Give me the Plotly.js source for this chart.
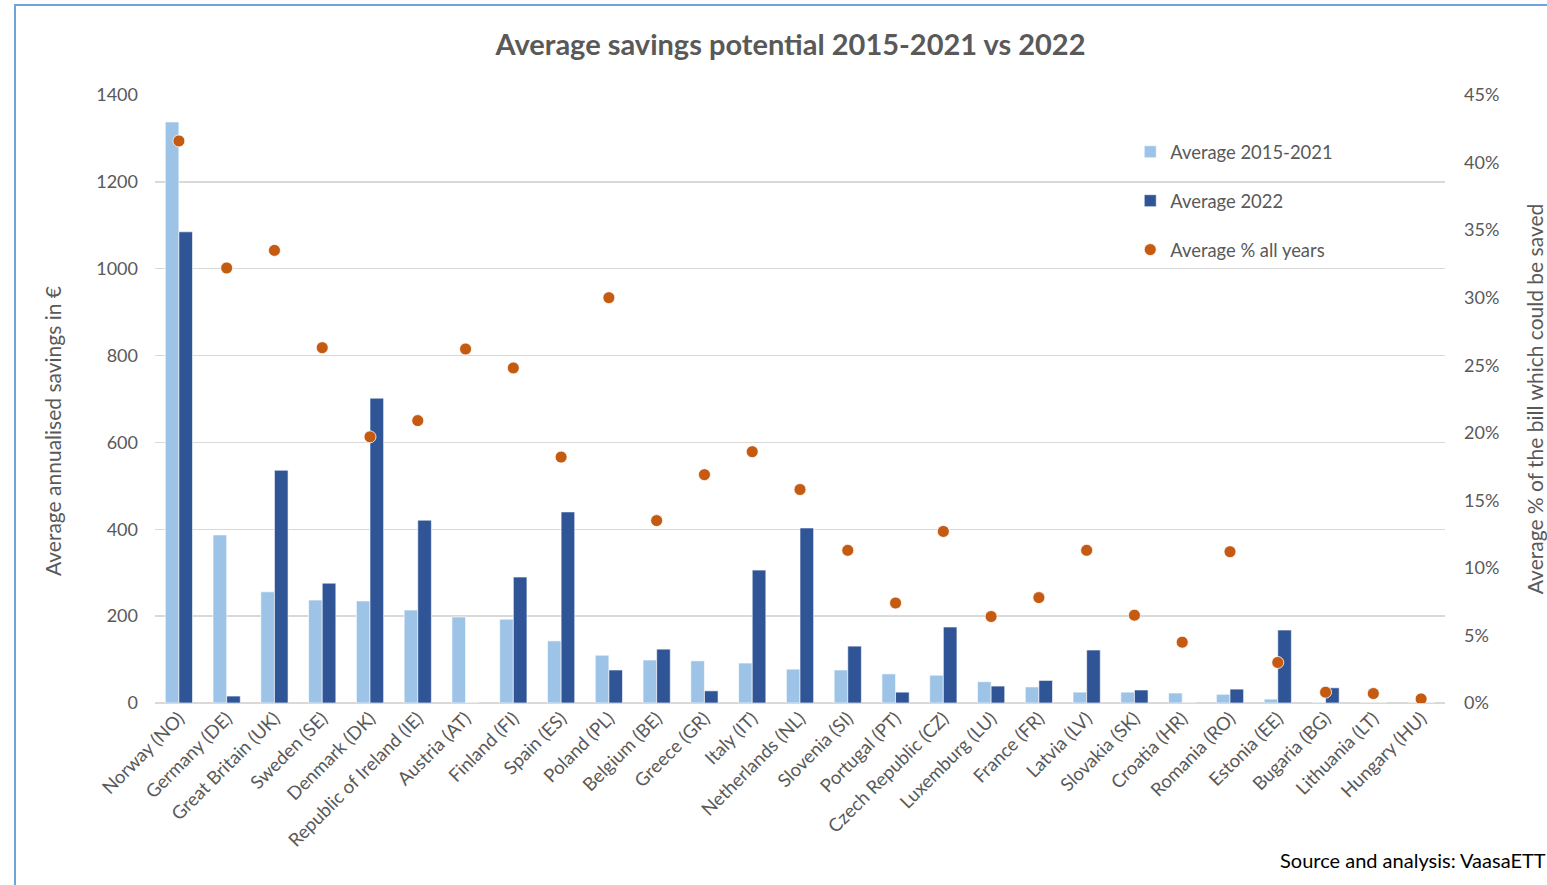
<!DOCTYPE html>
<html>
<head>
<meta charset="utf-8">
<script src="https://cdn.plot.ly/plotly-3.0.1.min.js"></script>
<style>
  html, body { margin: 0; padding: 0; background: #fff; }
  #wrap { position: relative; width: 1547px; height: 885px; overflow: hidden; }
  #chart { position: absolute; left: 0; top: 0; width: 1547px; height: 885px; }
  #frame { position: absolute; left: 14px; top: 4px; width: 1560px; height: 900px;
           border-left: 2px solid #6fa3dc; border-top: 2px solid #6fa3dc; pointer-events: none; }
</style>
</head>
<body>
<div id="wrap">
  <div id="chart"></div>
  <div id="frame"></div>
</div>
<script>
const countries = ["Norway (NO)", "Germany (DE)", "Great Britain (UK)", "Sweden (SE)", "Denmark (DK)",
  "Republic of Ireland (IE)", "Austria (AT)", "Finland (FI)", "Spain (ES)", "Poland (PL)",
  "Belgium (BE)", "Greece (GR)", "Italy (IT)", "Netherlands (NL)", "Slovenia (SI)",
  "Portugal (PT)", "Czech Republic (CZ)", "Luxemburg (LU)", "France (FR)", "Latvia (LV)",
  "Slovakia (SK)", "Croatia (HR)", "Romania (RO)", "Estonia (EE)", "Bugaria (BG)",
  "Lithuania (LT)", "Hungary (HU)"];

const avg20152021 = [1338, 387, 256, 237, 235, 214, 198, 193, 143, 110,
  99, 97, 92, 78, 76, 67, 64, 49, 37, 25,
  25, 23, 20, 9, 0, 0, 0];

const avg2022 = [1085, 16, 536, 276, 702, 421, 0, 290, 440, 76,
  124, 28, 306, 403, 131, 25, 175, 39, 52, 122,
  30, 0, 32, 168, 35, 0, 0];

const avgPctAllYears = [0.416, 0.322, 0.335, 0.263, 0.197, 0.209, 0.262, 0.248, 0.182, 0.300,
  0.135, 0.169, 0.186, 0.158, 0.113, 0.074, 0.127, 0.064, 0.078, 0.113,
  0.065, 0.045, 0.112, 0.030, 0.008, 0.007, 0.003];

const leftTicks = [0, 200, 400, 600, 800, 1000, 1200, 1400];
const rightTicks = [0, 0.05, 0.10, 0.15, 0.20, 0.25, 0.30, 0.35, 0.40, 0.45];
const rightTickText = ["0%", "5%", "10%", "15%", "20%", "25%", "30%", "35%", "40%", "45%"];

const FONT = "Lato, 'Open Sans', sans-serif";
const GREY = "#595959";

const traces = [
  {
    type: "bar", name: "Average 2015-2021", x: countries, y: avg20152021,
    marker: { color: "#9dc3e6", line: { color: "#ffffff", width: 0.6 } },
    legendgroup: "a", yaxis: "y"
  },
  {
    type: "bar", name: "Average 2022", x: countries, y: avg2022,
    marker: { color: "#2f5597", line: { color: "#ffffff", width: 0.6 } },
    legendgroup: "b", yaxis: "y"
  },
  {
    type: "scatter", mode: "markers", name: "Average % all years", x: countries, y: avgPctAllYears,
    marker: { color: "#c55a11", size: 12, line: { color: "#ffffff", width: 0.8 } },
    legendgroup: "c", yaxis: "y2"
  }
];

const layout = {
  width: 1547, height: 885,
  paper_bgcolor: "#ffffff", plot_bgcolor: "#ffffff",
  margin: { l: 155, r: 102, t: 95, b: 182 },
  font: { family: FONT, color: GREY, size: 18 },
  title: {
    text: "<b>Average savings potential 2015-2021 vs 2022</b>",
    font: { family: FONT, size: 29, color: GREY },
    x: 0.511, xanchor: "center", y: 0.949, yanchor: "middle"
  },
  barmode: "group", bargap: 0.43, bargroupgap: 0,
  showlegend: true,
  legend: {
    x: 0.756, y: 0.937, xanchor: "left", yanchor: "top",
    font: { family: FONT, size: 18.4, color: GREY },
    bgcolor: "rgba(0,0,0,0)", traceorder: "grouped", tracegroupgap: 22,
    itemwidth: 30
  },
  xaxis: {
    type: "category", tickangle: -45, range: [-0.5, 26.5],
    tickfont: { family: FONT, size: 18.5, color: GREY },
    showgrid: false, showline: false, ticks: "", zeroline: false
  },
  yaxis: {
    range: [0, 1400], tickvals: leftTicks,
    tickfont: { family: FONT, size: 18, color: GREY },
    showgrid: true, gridcolor: "#d9d9d9", gridwidth: 1.5,
    zeroline: true, zerolinecolor: "#d9d9d9", zerolinewidth: 1.5,
    showline: false, ticks: "", ticklabelstandoff: 16
  },
  yaxis2: {
    overlaying: "y", side: "right", range: [0, 0.45],
    tickvals: rightTicks, ticktext: rightTickText,
    tickfont: { family: FONT, size: 18, color: GREY },
    showgrid: false, zeroline: false, showline: false, ticks: "", ticklabelstandoff: 18,
    title: { text: "Average % of the bill which could be saved", font: { family: FONT, size: 21, color: GREY }, standoff: 30 }
  },
  annotations: [
    {
      text: "Average annualised savings in €", xref: "paper", yref: "paper",
      x: -0.0795, y: 0.448, xanchor: "center", yanchor: "middle", textangle: -90, showarrow: false,
      font: { family: FONT, size: 21, color: GREY }
    },
    {
      text: "Source and analysis: VaasaETT", xref: "paper", yref: "paper",
      x: 1.0795, y: -0.258, xanchor: "right", yanchor: "middle", showarrow: false,
      font: { family: FONT, size: 20, color: "#000000" }
    }
  ]
};

Plotly.newPlot("chart", traces, layout, { displayModeBar: false, staticPlot: true });
</script>
</body>
</html>
